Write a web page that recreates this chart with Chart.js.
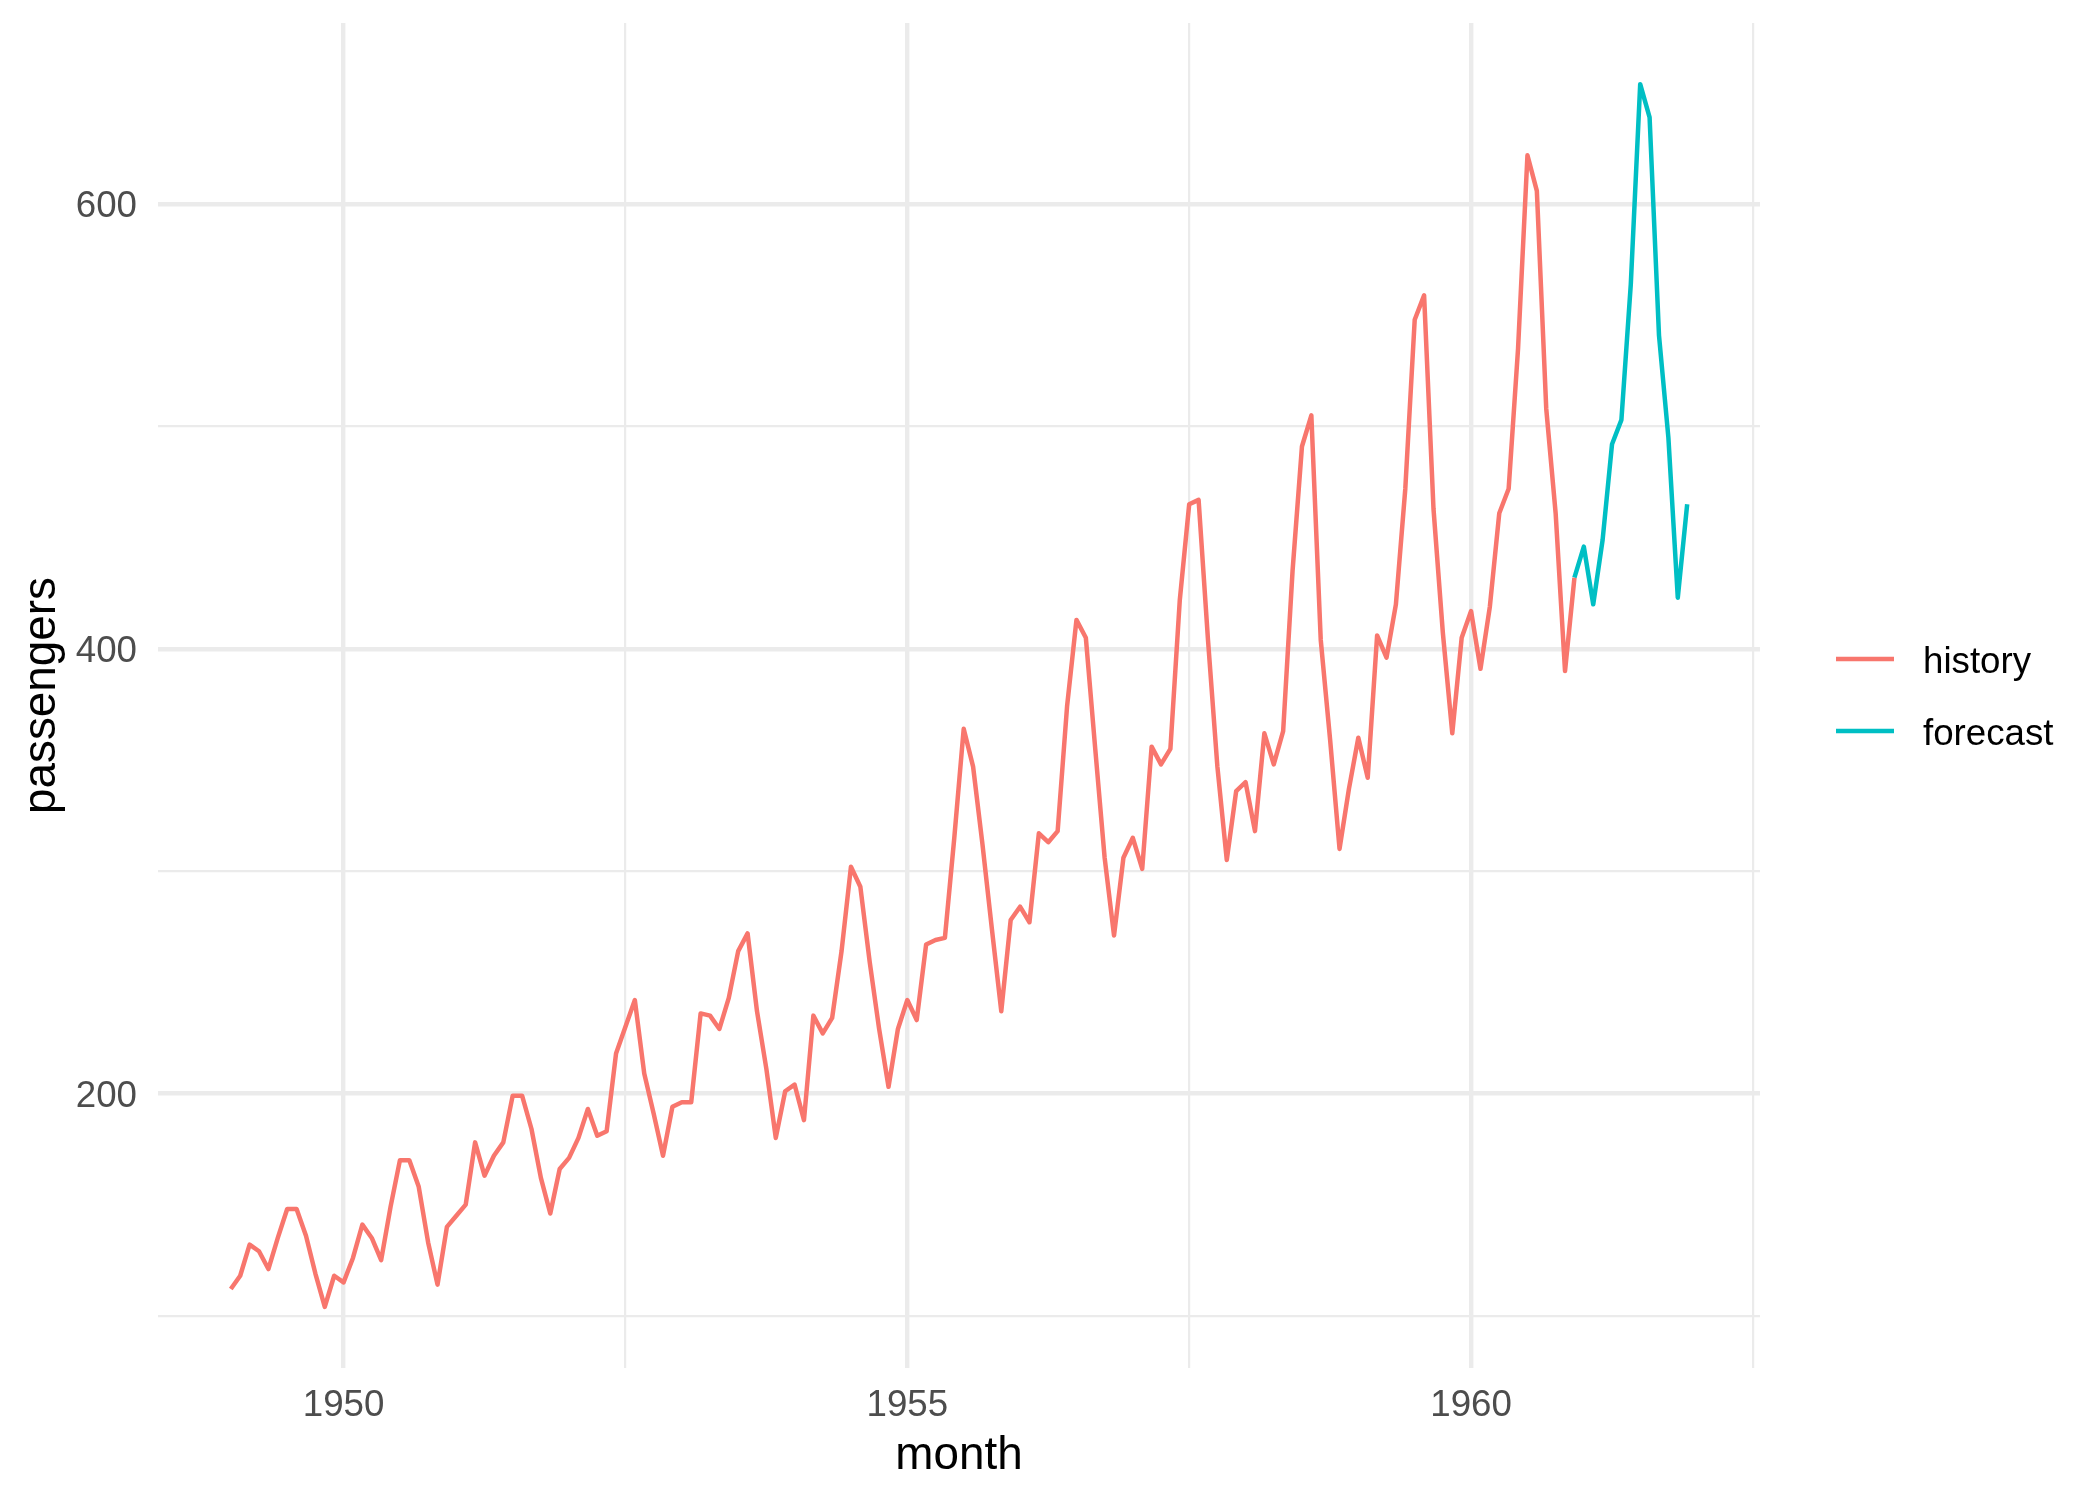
<!DOCTYPE html>
<html>
<head>
<meta charset="utf-8">
<title>Air passengers: history and forecast</title>
<script src="https://cdn.jsdelivr.net/npm/chart.js@4.4.1/dist/chart.umd.min.js"></script>
<style>
  html, body { margin: 0; padding: 0; background: #ffffff; }
  canvas { display: block; }
</style>
</head>
<body>
<canvas id="chart" width="2100" height="1500" style="width:2100px;height:1500px"></canvas>
<script>
// monthly passengers, Jan 1949 .. Dec 1960
const historyStart = 1949;
const history = [
  112, 118, 132, 129, 121, 135, 148, 148, 136, 119, 104, 118,
  115, 126, 141, 135, 125, 149, 170, 170, 158, 133, 114, 140,
  145, 150, 178, 163, 172, 178, 199, 199, 184, 162, 146, 166,
  171, 180, 193, 181, 183, 218, 230, 242, 209, 191, 172, 194,
  196, 196, 236, 235, 229, 243, 264, 272, 237, 211, 180, 201,
  204, 188, 235, 227, 234, 264, 302, 293, 259, 229, 203, 229,
  242, 233, 267, 269, 270, 315, 364, 347, 312, 274, 237, 278,
  284, 277, 317, 313, 318, 374, 413, 405, 355, 306, 271, 306,
  315, 301, 356, 348, 355, 422, 465, 467, 404, 347, 305, 336,
  340, 318, 362, 348, 363, 435, 491, 505, 404, 359, 310, 337,
  360, 342, 406, 396, 420, 472, 548, 559, 463, 407, 362, 405,
  417, 391, 419, 461, 472, 535, 622, 606, 508, 461, 390, 432
];
// forecast, starting from the last observed month (Dec 1960) through Dec 1961
const forecastStart = 1960 + 11 / 12;
const forecast = [432, 446, 420, 449, 492, 503, 564, 654, 639, 541, 495, 423, 465];

const seriesNames = ['history', 'forecast'];
const seriesColors = ['#F8766D', '#00BFC4'];

const xTicks = [1950, 1952.5, 1955, 1957.5, 1960, 1962.5];
const xLabelTicks = [1950, 1955, 1960];
const yTicks = [100, 200, 300, 400, 500, 600];
const yLabelTicks = [200, 400, 600];

const toPoints = (start, values) => values.map((v, i) => ({ x: start + i / 12, y: v }));

// ggplot-style padded ranges (5% each side)
const allX = [historyStart, forecastStart + (forecast.length - 1) / 12];
const allY = history.concat(forecast);
const xPad = (allX[1] - allX[0]) * 0.05;
const yPad = (Math.max(...allY) - Math.min(...allY)) * 0.05;

const FONT = "'Liberation Sans', Arial, Helvetica, sans-serif";
Chart.defaults.font.family = FONT;

// legend drawn like ggplot's: short line key + label, to the right of the panel
const sideLegend = {
  id: 'sideLegend',
  afterDraw(chart, args, opts) {
    const ctx = chart.ctx;
    ctx.save();
    chart.data.datasets.forEach((ds, i) => {
      const y = opts.top + i * opts.step;
      ctx.strokeStyle = ds.borderColor;
      ctx.lineWidth = ds.borderWidth;
      ctx.beginPath();
      ctx.moveTo(opts.x, y);
      ctx.lineTo(opts.x + opts.keyWidth, y);
      ctx.stroke();
      ctx.fillStyle = '#000000';
      ctx.font = opts.fontSize + 'px ' + FONT;
      ctx.textAlign = 'left';
      ctx.textBaseline = 'alphabetic';
      ctx.fillText(ds.label, opts.textX, y + opts.baselineShift);
    });
    ctx.restore();
  }
};

const gridColor = '#EBEBEB';

// fixed axis box sizes, no extra label overhang padding
const fixX = (scale) => {
  scale.height = 132;
  scale.paddingLeft = 0; scale.paddingRight = 0;
  scale.paddingTop = 0; scale.paddingBottom = 0;
};
const fixY = (scale) => {
  scale.width = 158;
  scale.paddingLeft = 0; scale.paddingRight = 0;
  scale.paddingTop = 0; scale.paddingBottom = 0;
};

new Chart(document.getElementById('chart').getContext('2d'), {
  type: 'line',
  data: {
    datasets: [
      {
        label: seriesNames[0],
        data: toPoints(historyStart, history),
        borderColor: seriesColors[0],
        backgroundColor: seriesColors[0],
        borderWidth: 4.5,
        pointRadius: 0,
        borderJoinStyle: 'round',
        tension: 0,
        fill: false
      },
      {
        label: seriesNames[1],
        data: toPoints(forecastStart, forecast),
        borderColor: seriesColors[1],
        backgroundColor: seriesColors[1],
        borderWidth: 4.5,
        pointRadius: 0,
        borderJoinStyle: 'round',
        tension: 0,
        fill: false
      }
    ]
  },
  options: {
    responsive: false,
    animation: false,
    devicePixelRatio: 1,
    layout: { padding: { top: 23, right: 340, bottom: 0, left: 0 } },
    plugins: {
      legend: { display: false },
      tooltip: { enabled: false },
      sideLegend: { x: 1836, keyWidth: 58, textX: 1923, top: 659, step: 72, fontSize: 36.7, baselineShift: 14 }
    },
    scales: {
      x: {
        type: 'linear',
        min: allX[0] - xPad,
        max: allX[1] + xPad,
        afterBuildTicks: (axis) => { axis.ticks = xTicks.map(v => ({ value: v })); },
        afterFit: fixX,
        grid: {
          color: gridColor,
          lineWidth: (c) => (c.tick && xLabelTicks.includes(c.tick.value)) ? 4.4 : 2.2,
          drawTicks: false
        },
        border: { display: false },
        ticks: {
          autoSkip: false,
          maxRotation: 0,
          padding: 16,
          color: '#4D4D4D',
          font: { size: 36.7 },
          callback: (v) => xLabelTicks.includes(v) ? String(v) : ''
        },
        title: {
          display: true,
          text: 'month',
          color: '#000000',
          font: { size: 45.8 },
          padding: { top: 0, bottom: 16 }
        }
      },
      y: {
        type: 'linear',
        min: Math.min(...allY) - yPad,
        max: Math.max(...allY) + yPad,
        afterBuildTicks: (axis) => { axis.ticks = yTicks.map(v => ({ value: v })); },
        afterFit: fixY,
        grid: {
          color: gridColor,
          lineWidth: (c) => (c.tick && yLabelTicks.includes(c.tick.value)) ? 4.4 : 2.2,
          drawTicks: false
        },
        border: { display: false },
        ticks: {
          autoSkip: false,
          padding: 21,
          labelOffset: 3,
          color: '#4D4D4D',
          font: { size: 36.7 },
          callback: (v) => yLabelTicks.includes(v) ? String(v) : ''
        },
        title: {
          display: true,
          text: 'passengers',
          color: '#000000',
          font: { size: 45.8 },
          padding: { top: 15, bottom: 0 }
        }
      }
    }
  },
  plugins: [sideLegend]
});
</script>
</body>
</html>
